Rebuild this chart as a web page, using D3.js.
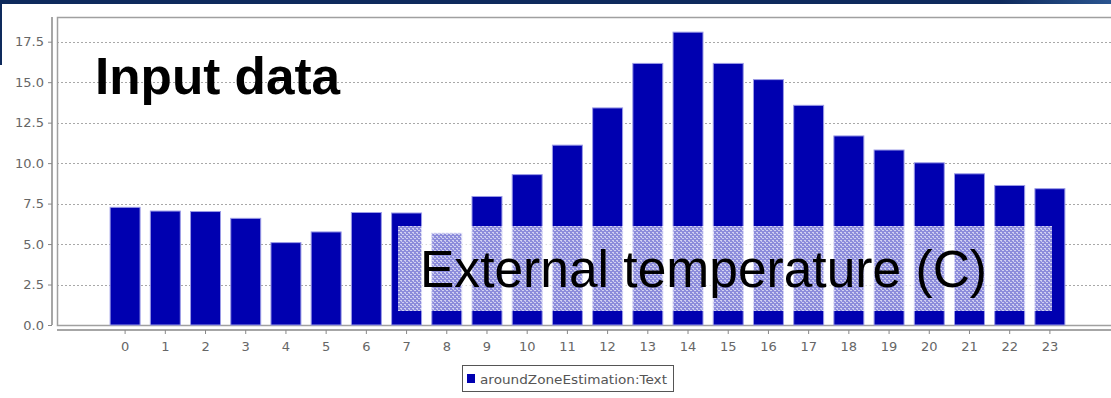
<!DOCTYPE html>
<html><head><meta charset="utf-8">
<script src="https://cdn.jsdelivr.net/npm/d3@7"></script>
<style>html,body{margin:0;padding:0;background:#fff;overflow:hidden}</style>
</head><body>
<svg id="c" width="1111" height="398"></svg>
<script>
const hours = ["0","1","2","3","4","5","6","7","8","9","10","11","12","13","14","15","16","17","18","19","20","21","22","23"];
const temps = [7.3,7.07,7.04,6.62,5.12,5.78,6.98,6.95,5.7,7.97,9.32,11.14,13.44,16.19,18.12,16.19,15.19,13.6,11.71,10.84,10.05,9.37,8.65,8.45];
const yTicks = [0,2.5,5,7.5,10,12.5,15,17.5];
const seriesName = "aroundZoneEstimation:Text";

const svg = d3.select("#c");
const defs = svg.append("defs");
const bg = defs.append("linearGradient").attr("id","band").attr("x1","0").attr("x2","1");
bg.append("stop").attr("offset","0").attr("stop-color","#0e2a5c");
bg.append("stop").attr("offset","0.9").attr("stop-color","#0e2a5c");
bg.append("stop").attr("offset","1").attr("stop-color","#2a5590");
// top banner decoration
svg.append("rect").attr("x",0).attr("y",0).attr("width",1111).attr("height",4).attr("fill","url(#band)");
svg.append("rect").attr("x",0).attr("y",0).attr("width",2).attr("height",65).attr("fill","#0e2a5c");

const plotL = 57, plotT = 17, plotB = 325, plotR = 1115;
const x = d3.scaleBand().domain(hours).range([105,1070]).paddingInner(0.23).paddingOuter(0.115);
const y = d3.scaleLinear().domain([0,17.5]).range([plotB, 41.7]);

// gridlines
svg.append("g").selectAll("line").data(yTicks.filter(d=>d>0)).join("line")
  .attr("x1",plotL).attr("x2",plotR).attr("y1",d=>Math.round(y(d))+0.5).attr("y2",d=>Math.round(y(d))+0.5)
  .attr("stroke","#a8a8a8").attr("stroke-dasharray","2,2").attr("stroke-width",1);

// plot border
svg.append("path").attr("d",`M${plotR},${plotT+0.5}H${plotL+0.5}V${plotB+0.5}H${plotR}`)
  .attr("fill","none").attr("stroke","#a0a0a0").attr("stroke-width",1.5);

// bars
svg.append("g").selectAll("rect").data(temps).join("rect")
  .attr("x",(d,i)=>x(hours[i])+0.5).attr("width",x.bandwidth()-1)
  .attr("y",d=>y(d)+0.5).attr("height",d=>y(0)-y(d)-0.5)
  .attr("fill","#0000b0").attr("stroke","#9a9ae6").attr("stroke-width",1);

// y axis
const ya = svg.append("g").attr("transform","translate(52,0)")
  .call(d3.axisLeft(y).tickValues(yTicks).tickFormat(d3.format(".1f")).tickSize(4).tickPadding(4));
ya.select(".domain").attr("stroke","#888").attr("stroke-width",1.5).attr("d",`M0,${plotT}V${plotB}`);
ya.selectAll(".tick line").attr("stroke","#888");
ya.selectAll("text").attr("font-family","DejaVu Sans").attr("font-size",13).attr("fill","#666");

// x axis
const xa = svg.append("g").attr("transform","translate(0,330)")
  .call(d3.axisBottom(x).tickSize(4).tickPadding(8));
xa.select(".domain").attr("stroke","#888").attr("stroke-width",1.5).attr("d",`M${plotL},0H${plotR}`);
xa.selectAll(".tick line").attr("stroke","#888");
xa.selectAll("text").attr("font-family","DejaVu Sans").attr("font-size",13).attr("fill","#666");

// overlay annotation box with dither pattern
const pat = defs.append("pattern").attr("id","dith").attr("patternUnits","userSpaceOnUse").attr("width",4).attr("height",4);
pat.append("rect").attr("width",4).attr("height",4).attr("fill","#fff").attr("opacity",0.55);
pat.append("rect").attr("x",0).attr("y",0).attr("width",2).attr("height",1).attr("fill","#fff").attr("opacity",0.6);
pat.append("rect").attr("x",2).attr("y",2).attr("width",2).attr("height",1).attr("fill","#fff").attr("opacity",0.6);
pat.append("rect").attr("x",1).attr("y",1).attr("width",1).attr("height",1).attr("fill","#fff").attr("opacity",0.5);
svg.append("rect").attr("x",398).attr("y",226).attr("width",654).attr("height",85).attr("fill","url(#dith)");
svg.append("text").attr("x",420).attr("y",287).attr("font-family","Liberation Sans").attr("font-size",51)
  .attr("textLength",567).attr("lengthAdjust","spacingAndGlyphs").attr("fill","#000").text("External temperature (C)");

svg.append("text").attr("x",95).attr("y",94).attr("font-family","Liberation Sans").attr("font-weight","bold")
  .attr("font-size",52).attr("textLength",245).attr("lengthAdjust","spacingAndGlyphs").attr("fill","#000").text("Input data");

// legend
const lg = svg.append("g");
lg.append("rect").attr("x",462.5).attr("y",365.5).attr("width",211).attr("height",26).attr("fill","#fff").attr("stroke","#555").attr("stroke-width",1);
lg.append("rect").attr("x",467).attr("y",374).attr("width",8).attr("height",9).attr("fill","#0000b0");
lg.append("text").attr("x",480).attr("y",383.5).attr("font-family","DejaVu Sans").attr("font-size",13)
  .attr("textLength",187).attr("lengthAdjust","spacingAndGlyphs").attr("fill","#555").text(seriesName);
</script>
</body></html>
